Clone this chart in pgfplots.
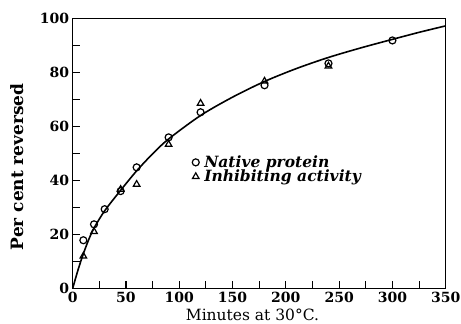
\documentclass[border=0pt]{standalone}
\usepackage{fontspec}
\setmainfont{DejaVu Serif}
\usepackage{pgfplots}
\pgfplotsset{compat=1.18}
\begin{document}
\begin{tikzpicture}
\begin{axis}[
  scale only axis, width=373pt, height=270pt,
  xmin=0, xmax=350, ymin=0, ymax=100,
  xtick={0,50,...,350}, ytick={0,20,...,100},
  minor x tick num=1, minor y tick num=1,
  tick align=inside, xtick pos=bottom, ytick pos=left,
  major tick length=7pt, minor tick length=7pt,
  every tick/.style={line width=1.1pt, black},
  axis line style={line width=1.5pt},
  /pgf/number format/assume math mode=true,
  ticklabel style={font=\fontsize{14}{15}\selectfont\bfseries},
  xlabel={Minutes at 30\textdegree C.},
  ylabel={\bfseries Per cent reversed},
  xlabel style={font=\fontsize{15.5}{16}\selectfont, at={(axis description cs:0.482,-0.1)}, anchor=center},
  ylabel style={font=\fontsize{17}{18}\selectfont, at={(axis description cs:-0.15,0.45)}, anchor=center},
  legend style={draw=none, fill=none, at={(axis cs:112,44)}, anchor=west,
    font=\fontsize{15.5}{16}\selectfont\bfseries\itshape, row sep=-3pt, column sep=3pt, inner sep=0pt},
  legend image code/.code={\draw[#1] plot coordinates {(0.2cm,0cm)};},
  legend cell align=left,
  clip=false,
]
\addplot[black, line width=1.6pt, smooth, tension=0.5, forget plot] coordinates {
(0,0) (5,6.8) (10,12.8) (15,18) (20,22.3) (30,28.7) (45,36.3) (60,43.5) (75,49.8) (90,55.3)
(120,64) (150,70.8) (180,76.6) (210,81.4) (240,85.5) (270,89) (300,92.2) (325,94.8) (350,97.2)};
\addplot[only marks, mark=o, mark size=3.5pt, mark options={line width=1.2pt, black}] coordinates {
(10,17.8) (20,23.7) (30,29.3) (45,36) (60,44.8) (90,55.9) (120,65.2) (180,75.2) (240,83.3) (300,91.8)};
\addlegendentry{Native protein}
\addplot[only marks, mark=triangle, mark size=3.8pt, mark options={line width=1.2pt, black}] coordinates {
(10,11.9) (20,21) (45,36.6) (60,38.5) (90,53.3) (120,68.5) (180,76.7) (240,82.3)};
\addlegendentry{Inhibiting activity}
\end{axis}
\pgfresetboundingbox
\path ([shift={(-72.7pt,-35.7pt)}]current axis.south west) rectangle ([shift={(388.3pt,288.3pt)}]current axis.south west);
\end{tikzpicture}
\end{document}
